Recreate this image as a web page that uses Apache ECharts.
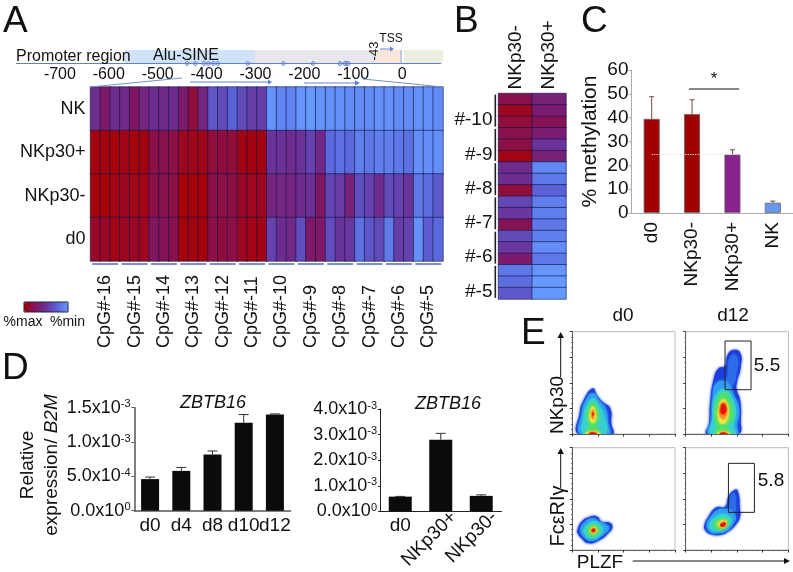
<!DOCTYPE html>
<html><head><meta charset="utf-8">
<style>html,body{margin:0;padding:0;background:#fff}#c{width:793px;height:572px}</style>
<script src="https://cdn.jsdelivr.net/npm/echarts@6/dist/echarts.min.js"></script>
</head><body><div id="c"></div>
<script>
const FF='"Liberation Sans",Arial,sans-serif';
// Panel A heatmap
const rowNamesA=['NK','NKp30+','NKp30-','d0'];
const rowNK=[55,72,55,58,75,62,55,58,55,70,85,62,32,38,25,38,44,44,3,8,10,2,0,2,4,4,6,6,6,4,4,6,6,4,4,6];
const rowPlus=[97,96,97,95,97,96,82,80,82,92,93,94,85,84,85,95,96,96,50,52,55,52,42,58,22,18,22,12,15,12,12,15,18,5,5,5];
const rowMinus=[97,98,95,92,94,95,82,80,82,98,97,98,82,82,83,90,92,92,62,60,62,55,52,75,40,45,65,35,42,55,38,42,50,15,20,30];
const rowD0=[90,90,95,92,90,92,75,78,80,97,96,97,82,84,82,92,95,95,42,55,58,36,72,72,36,50,48,18,32,38,14,45,42,4,28,22];
const cpgLabels=['CpG#-16','CpG#-15','CpG#-14','CpG#-13','CpG#-12','CpG#-11','CpG#-10','CpG#-9','CpG#-8','CpG#-7','CpG#-6','CpG#-5'];
const cpgUnderline=[1,1,1,1,1,1,1,1,1,1,1,1];
// Promoter track
const bandFrom=[-567,-301,-49,3];
const bandTo=[-301,-49,-4,84];
const cpgSites=[-440,-423,-405,-396,-386,-377,-316,-243,-182,-127,-117,-113,-110];
// Panel B
const colsB=['NKp30-','NKp30+'];
const colMinus=[80,92,85,80,82,95,55,55,85,40,48,78,38,48,70,15,20,30];
const colPlus=[65,68,78,68,50,65,8,15,25,12,12,15,12,5,15,2,0,0];
const groupsB=['#-10','#-9','#-8','#-7','#-6','#-5'];
const groupBars=[1,1,1,1,1,1];
// Panel C
const catsC=['d0','NKp30-','NKp30+','NK'];
const meansC=[39.5,41.5,24.5,4.3];
const errTopC=[48.8,47.5,26.5,5];
// Panel D
const catsD1=['d0','d4','d8','d10','d12'];
const meansD1=[0.46e-3,0.58e-3,0.82e-3,1.28e-3,1.40e-3];
const errTopD1=[0.49e-3,0.63e-3,0.87e-3,1.40e-3,1.41e-3];
const ticksD1=['0.0x10|0','5.0x10|-4','1.0x10|-3','1.5x10|-3'];
const catsD2=['d0','NKp30+','NKp30-'];
const meansD2=[0.58e-3,2.8e-3,0.61e-3];
const errTopD2=[0.59e-3,3.05e-3,0.65e-3];
const ticksD2=['0.0x10|0','1.0x10|-3','2.0x10|-3','3.0x10|-3','4.0x10|-3'];
// Panel E contours: [level, outline in axis units]
const levelColors=['#1c3ddc','#2b6ce8','#2f9cf0','#39d0d0','#4de070','#e8e840','#f89020','#e81010'];
const contourTL=[
[0,[[6,0],[7,20],[11,33],[20,44.6],[24,38],[30,31],[37,25],[38,10],[39,0]]],
[2,[[8,0],[9,20],[13,33],[20,40],[27,32],[33,24],[35,10],[36,0]]],
[3,[[11,0],[11,18],[14,28],[20,35],[26,28],[31,18],[32,0]]],
[4,[[14,0],[16,8],[14,20],[20,31],[26,20],[24,8],[27,0]]],
[5,[[17.5,13],[17,21],[20,27],[23,21],[22.5,13],[20,11]]],
[6,[[19,16],[18.8,21],[20,24],[21.2,21],[21,16],[20,14.5]]],
[7,[[19.6,18],[19.6,20.5],[20.3,21.5],[20.8,20],[20.5,18]]],
[5,[[13,0],[16,2.4],[24,2.4],[27,0]]],
[7,[[16,0],[18,1.4],[22,1.4],[24,0]]]];
const contourTR=[
[0,[[20.5,0],[22.7,10.4],[23.7,30],[27,52.8],[31.8,64],[38.3,66.4],[40.6,77],[46.4,82],[53,79.5],[53.6,65.8],[49.7,49.5],[49.7,43],[53,33],[53.6,13.7],[51.3,0]]],
[1,[[41,60],[42,72],[47,78],[51,72],[50,62],[46,48],[40,50]]],
[2,[[22.5,0],[25,15],[26,35],[30,50],[41,50],[47,38],[52,25],[50,8],[50,0]]],
[3,[[25,0],[26,15],[27,30],[31,40],[38,44],[45,36],[49,22],[47,8],[48,0]]],
[4,[[29,0],[30,7],[28,18],[30,32],[35,40],[40,40],[45,28],[46,15],[41,7],[44,0]]],
[5,[[32,13],[32,26],[36,34],[40,31],[42,22],[40,13],[36,10]]],
[6,[[33.5,17],[33.5,27],[36.5,31],[39.5,28],[40,20],[38,15],[36,15]]],
[7,[[34.5,20.5],[34.5,27],[37,29.5],[39,26.5],[39,21.5],[37,19.5]]],
[5,[[31,0],[33,2.4],[40,2.4],[43,0]]],
[7,[[33,0],[35,1.4],[38,1.4],[41,0]]]];
const contourBL=[
[0,[[4.9,19.5],[9,27.7],[17.2,32.6],[24.4,32.6],[28.6,27.7],[36.7,26.7],[39,22],[35,16.3],[27,9.8],[15.6,6.5],[9,11.4],[5.2,16.3]]],
[2,[[8,20],[13,28],[20,31],[26,28],[33,25],[36,21],[29,14],[20,9],[12,12]]],
[3,[[11,20],[16,26],[21,28],[27,25],[30,20],[25,13],[18,11],[13,14]]],
[4,[[14,20],[18,24.5],[22,25],[26,21],[25,15.5],[20,13.5],[15,15.5]]],
[5,[[17,19.5],[20,22.5],[23.5,21.5],[23.5,17.5],[20,16],[17.5,17.5]]],
[7,[[18.5,19],[20.5,21],[22.5,20],[21.5,17.5],[19.5,17.5]]]];
const contourBR=[
[0,[[18.2,24.4],[22,32.6],[30,41.7],[38.3,42.3],[41.6,52],[46.4,58],[50.6,58],[52.9,39],[52.9,32.6],[49.7,26],[41.6,18],[33.4,14.7],[23.7,15.6],[18.8,19.5]]],
[1,[[42,44],[45,55],[48,55],[49,40],[49,36],[42,38]]],
[2,[[20.5,25],[24,32],[31,39],[38,40],[45,38],[49,31],[47,27],[41,19],[32,16.5],[24,17.5]]],
[3,[[23,25],[28,32],[34,35],[41,34],[45,29],[39,21],[31,18.5],[25,19.5]]],
[4,[[27,25],[31,30],[36,31],[41,30],[41,25],[37,20.5],[31,20]]],
[5,[[31,25],[35,29],[40,28],[39,23.5],[35,21.5]]],
[7,[[33.5,24.5],[36.5,27],[39,26.5],[38,23.5],[35.5,22.5]]]];
const gateTR=[38.3,63.6,43.3,90.9];
const gateBR=[41.6,66.9,36.8,84.7];

const heatColors=['#6699ff','#5a62d8','#6a3399','#801560','#aa0000'];
const dataA=[];[rowNK,rowPlus,rowMinus,rowD0].forEach((r,j)=>r.forEach((v,i)=>dataA.push([i,j,v])));
const dataB=[];for(let j=0;j<18;j++){dataB.push([0,j,colMinus[j]]);dataB.push([1,j,colPlus[j]]);}
const rng=n=>Array.from({length:n},(_,i)=>String(i));
const grids=[
 {left:11,top:50,width:440,height:13.5},            //0 track
 {left:90.5,top:87,width:352.5,height:174},         //1 heat A
 {left:90.5,top:263,width:352.5,height:2},          //2 underline
 {left:498.5,top:93.5,width:67.5,height:205.5},     //3 heat B
 {left:494.5,top:93.5,width:1.6,height:205.5},      //4 bracket B
 {left:631.5,top:70,width:162,height:143},          //5 C
 {left:134.5,top:407.7,width:156,height:103},       //6 D1
 {left:380,top:409,width:121.5,height:102.5},       //7 D2
 {left:572.3,top:331.7,width:102.7,height:102.3},   //8
 {left:685.7,top:331.7,width:102.7,height:102.3},   //9
 {left:572.3,top:447.7,width:102.7,height:102.3},   //10
 {left:685.7,top:447.7,width:102.7,height:102.3},   //11
 {left:393,top:409,width:121.5,height:102.5},       //12 D2 slanted labels
];
grids.slice(8,12).forEach(g=>{g.show=true;g.borderColor='#bbb';g.borderWidth=1;g.backgroundColor='#fff';});
const hid={show:false};
const richSup={b:{fontSize:18,fontFamily:FF,color:'#111'},s:{fontSize:11,fontFamily:FF,color:'#111',verticalAlign:'top',padding:[0,0,7,0]}};
const supFmt=list=>(v,i)=>{const p=list[i].split('|');return '{b|'+p[0]+'}{s|'+p[1]+'}';};
const xAxes=[
 {gridIndex:0,type:'value',min:-800,max:100,interval:100,axisLine:hid,axisTick:hid,splitLine:hid,
  axisLabel:{fontSize:16,fontFamily:FF,color:'#111',margin:3,formatter:v=>(v===-800||v===100)?'':String(v)}},
 {gridIndex:1,type:'category',data:rng(36),axisLine:hid,axisTick:hid,axisLabel:hid},
 {gridIndex:2,type:'category',data:cpgLabels,axisLine:hid,axisTick:hid,
  axisLabel:{rotate:90,interval:0,fontSize:18,fontFamily:FF,color:'#111',margin:83,align:'left',verticalAlign:'middle'}},
 {gridIndex:3,type:'category',position:'top',data:colsB,axisLine:hid,axisTick:hid,
  axisLabel:{rotate:-90,interval:0,fontSize:19,fontFamily:FF,color:'#111',margin:4}},
 {gridIndex:4,type:'value',min:0,max:1,show:false},
 {gridIndex:5,type:'category',data:catsC,axisLine:{lineStyle:{color:'#aaa'}},axisTick:{lineStyle:{color:'#aaa'},length:3},
  axisLabel:{rotate:90,interval:0,fontSize:19,fontFamily:FF,color:'#111',margin:9}},
 {gridIndex:6,type:'category',data:catsD1,axisLine:{lineStyle:{color:'#555',width:1.5}},axisTick:hid,
  axisLabel:{interval:0,fontSize:19,fontFamily:FF,color:'#111',margin:6}},
 {gridIndex:7,type:'category',data:['d0','',''],axisLine:{lineStyle:{color:'#222'}},axisTick:{alignWithLabel:true,length:3,lineStyle:{color:'#222'}},
  axisLabel:{interval:0,fontSize:19,fontFamily:FF,color:'#111',margin:5}},
 {gridIndex:12,type:'category',position:'bottom',data:['',catsD2[1],catsD2[2]],axisLine:{show:false,onZero:false},axisTick:hid,
  axisLabel:{rotate:45,interval:0,fontSize:19,fontFamily:FF,color:'#111',margin:7}},
];
const yAxes=[
 {gridIndex:0,type:'value',min:0,max:1,show:false},
 {gridIndex:1,type:'category',inverse:true,data:rowNamesA,axisLine:hid,axisTick:hid,
  axisLabel:{fontSize:18,fontFamily:FF,color:'#111',margin:5,padding:[8,0,0,0]}},
 {gridIndex:2,type:'value',min:0,max:1,show:false},
 {gridIndex:3,type:'category',inverse:true,data:rng(18),show:false},
 {gridIndex:4,type:'category',inverse:true,data:groupsB,axisLine:hid,axisTick:hid,
  axisLabel:{interval:0,fontSize:19,fontFamily:FF,color:'#111',margin:2,verticalAlign:'top'}},
 {gridIndex:5,type:'value',min:0,max:60,interval:10,splitLine:hid,axisLine:{show:true,lineStyle:{color:'#aaa'}},axisTick:{show:true,length:3,lineStyle:{color:'#aaa'}},
  name:'% methylation',nameLocation:'middle',nameGap:31,nameTextStyle:{fontSize:21,fontFamily:FF,color:'#111'},
  axisLabel:{fontSize:19,fontFamily:FF,color:'#111',margin:3}},
 {gridIndex:6,type:'value',min:0,max:1.5e-3,interval:0.5e-3,splitLine:hid,axisLine:{show:true,lineStyle:{color:'#555',width:1.5}},axisTick:{show:true,length:3,lineStyle:{color:'#555'}},
  axisLabel:{margin:4,formatter:supFmt(ticksD1),rich:richSup}},
 {gridIndex:7,type:'value',min:0,max:4e-3,interval:1e-3,splitLine:hid,axisLine:{show:true,lineStyle:{color:'#222'}},axisTick:{show:true,length:2,lineStyle:{color:'#222'}},
  axisLabel:{margin:3,formatter:supFmt(ticksD2),rich:richSup}},
];
for(let k=8;k<12;k++){
 const ax={gridIndex:k,type:'value',min:0,max:100,interval:25,splitLine:hid,axisLabel:hid,
  axisLine:{show:true,lineStyle:{color:'#444',width:0.8}},axisTick:{show:true,length:2.5,lineStyle:{color:'#333'}},
  minorTick:{show:true,splitNumber:5,length:1.2,lineStyle:{color:'#666'}}};
 xAxes.push(Object.assign({},ax));yAxes.push(Object.assign({},ax));
}
yAxes.push({gridIndex:12,type:'value',min:0,max:1,show:false});
const xi=k=>k<=7?k:k+1; // grid 12 owns x axis 8, grids 8-11 own 9-12
const yi=k=>k;
function errSeries(k,cats,tops,means,col,cap){
 return {type:'custom',xAxisIndex:xi(k),yAxisIndex:yi(k),z:3,silent:true,
  data:cats.map((c,i)=>[i,means[i],tops[i]]),encode:{x:0,y:[1,2]},
  renderItem:(p,api)=>{const a=api.coord([api.value(0),api.value(1)]),b=api.coord([api.value(0),api.value(2)]);
   const st={stroke:col,lineWidth:1,fill:'none'};
   return {type:'group',children:[
    {type:'line',shape:{x1:a[0],y1:a[1],x2:b[0],y2:b[1]},style:st},
    {type:'line',shape:{x1:b[0]-cap,y1:b[1],x2:b[0]+cap,y2:b[1]},style:st}]};}};
}
function contourSeries(k,list){
 return {type:'custom',xAxisIndex:xi(k),yAxisIndex:yi(k),z:2,silent:true,clip:true,
  data:list.map((c,i)=>[i,0]),encode:{x:0,y:1},
  renderItem:(p,api)=>{const c=list[p.dataIndex];const col=levelColors[c[0]];
   return {type:'polygon',shape:{points:c[1].map(q=>api.coord(q)),smooth:0.5},
    style:{fill:col,shadowBlur:3,shadowColor:col}};}};
}
function gateSeries(k,g){
 return {type:'custom',xAxisIndex:xi(k),yAxisIndex:yi(k),z:4,silent:true,
  data:[[g[0],g[2],g[1],g[3]]],encode:{x:[0,2],y:[1,3]},
  renderItem:(p,api)=>{const a=api.coord([api.value(0),api.value(1)]),b=api.coord([api.value(2),api.value(3)]);
   return {type:'rect',shape:{x:a[0],y:b[1],width:b[0]-a[0],height:a[1]-b[1]},style:{fill:'none',stroke:'#222',lineWidth:1}};}};
}
const bandColors=['#cfe2f7','#e8e8ec','#fbe5d8','#eeeee0'];
const series=[
 {type:'custom',xAxisIndex:0,yAxisIndex:0,silent:true,clip:false,
  data:bandFrom.map((f,i)=>[f,bandTo[i]]),encode:{x:[0,1]},
  renderItem:(p,api)=>{const a=api.coord([api.value(0),1]),b=api.coord([api.value(1),0]);
   return {type:'rect',shape:{x:a[0],y:a[1],width:b[0]-a[0],height:b[1]-a[1]},style:{fill:bandColors[p.dataIndex]}};}},
 {type:'scatter',xAxisIndex:0,yAxisIndex:0,data:cpgSites.map(v=>[v,0]),symbol:'diamond',symbolSize:5,silent:true,clip:false,z:5,
  itemStyle:{color:'#b9c8f2',borderColor:'#3f5fd0',borderWidth:0.8}},
 {type:'heatmap',xAxisIndex:1,yAxisIndex:1,data:dataA,silent:true,itemStyle:{borderColor:'rgba(15,20,70,0.75)',borderWidth:0.8}},
 {type:'bar',xAxisIndex:2,yAxisIndex:2,data:cpgUnderline,barWidth:26,silent:true,itemStyle:{color:'#7a8fd8'}},
 {type:'heatmap',xAxisIndex:3,yAxisIndex:3,data:dataB,silent:true,itemStyle:{borderColor:'rgba(15,20,70,0.75)',borderWidth:0.8}},
 {type:'bar',xAxisIndex:4,yAxisIndex:4,data:groupBars,barWidth:32,silent:true,itemStyle:{color:'#222'}},
 {type:'bar',xAxisIndex:5,yAxisIndex:5,barWidth:16,silent:true,
  data:meansC.map((v,i)=>({value:v,itemStyle:{color:['#a00000','#a00000','#8a2290','#6699ee'][i],borderColor:'#666',borderWidth:0.8}})),
  markLine:{silent:true,symbol:'none',label:hid,z:6,lineStyle:{color:'#e4e4e4',type:'dotted',width:1.2},
   data:[[{coord:['d0',meansC[2]]},{coord:['NKp30+',meansC[2]]}]]}},
 errSeries(5,catsC,errTopC,meansC,'#774444',2.5),
 {type:'bar',xAxisIndex:6,yAxisIndex:6,barWidth:18,silent:true,data:meansD1,itemStyle:{color:'#0b0b0b'}},
 errSeries(6,catsD1,errTopD1,meansD1,'#333',5),
 {type:'bar',xAxisIndex:7,yAxisIndex:7,barWidth:23,silent:true,data:meansD2,itemStyle:{color:'#0b0b0b'}},
 errSeries(7,catsD2,errTopD2,meansD2,'#333',5),
 {type:'bar',xAxisIndex:8,yAxisIndex:12,data:[],silent:true},
 contourSeries(8,contourTL),contourSeries(9,contourTR),contourSeries(10,contourBL),contourSeries(11,contourBR),gateSeries(9,gateTR),gateSeries(11,gateBR)
];

const T=(text,x,y,fs,o)=>Object.assign({type:'text',x,y,silent:true,z:20,rotation:(o&&o.rot)||0,
 style:Object.assign({text,fontSize:fs,fontFamily:FF,fill:'#111',align:(o&&o.align)||'center',verticalAlign:'middle',fontStyle:(o&&o.it)?'italic':'normal'},(o&&o.rich)?{rich:o.rich}:{})});
const L=(x1,y1,x2,y2,c,w)=>({type:'line',silent:true,z:19,shape:{x1,y1,x2,y2},style:{stroke:c,lineWidth:w||1}});
const H=(pts,c)=>({type:'polygon',silent:true,z:19,shape:{points:pts},style:{fill:c}});
const blue='#5a80dc';
const R=Math.PI/2;
const graphic=[
 T('A',3,22,37,{align:'left'}),T('B',454,22,37,{align:'left'}),T('C',581,22,37,{align:'left'}),
 T('D',2,369,37,{align:'left'}),T('E',521,334,37,{align:'left'}),
 // promoter annotations
 L(16,63.5,441,63.5,blue,1),L(401,50,401,63.5,'#8fa6e0',1.2),
 T('Promoter region',16,57,16,{align:'left'}),T('Alu-SINE',153,56,16,{align:'left'}),
 T('TSS',391,39,12),T('-43',374,51,13,{rot:R}),
 L(380,49,390,49,blue,1),H([[390,46.5],[394,49],[390,51.5]],blue),
 L(190,82,268,82,blue,1),H([[268,79.5],[272,82],[268,84.5]],blue),
 L(304,83,355,83,blue,1),H([[355,80.5],[360,83],[355,85.5]],blue),
 L(90,87,182,78,'#7a90c8',1),L(363,79,443,87,'#7a90c8',1),
 T('%max',23,322,14),T('%min',67.5,322,14),
 {type:'rect',silent:true,z:19,shape:{x:24,y:302,width:44,height:10},style:{fill:'none',stroke:'#223',lineWidth:1}},
 // panel C annotation
 L(689,89,739,89,'#111',1),T('*',714,79,17),
 // panel D
 T('Relative',28,465,19,{rot:R}),
 T('expression/ {i|B2M}',52,465,19,{rot:R,rich:{i:{fontStyle:'italic',fontSize:19,fontFamily:FF,fill:'#111'}}}),
 T('ZBTB16',213,403,18,{it:1}),T('ZBTB16',448,404,18,{it:1}),
 // panel E
 T('d0',623,316,19),T('d12',733,316,19),T('5.5',767,366,19),T('5.8',771,481,19),
 T('NKp30',558,405,19,{rot:R}),T('FcεRIγ',558,516,20,{rot:R}),T('PLZF',600,563,19),
 L(560.7,377,560.7,337,'#111',1),H([[557.5,338],[560.7,332],[563.9,338]],'#111'),
 L(560.7,488,560.7,453,'#111',1),H([[557.5,454],[560.7,448],[563.9,454]],'#111'),
 L(632.7,561,785,561,'#111',1),H([[784,558],[790,561],[784,564]],'#111'),
];
const chart=echarts.init(document.getElementById('c'),null,{renderer:'canvas'});
chart.setOption({animation:false,backgroundColor:'#fff',grid:grids,xAxis:xAxes,yAxis:yAxes,series,graphic:{elements:graphic},
 visualMap:{type:'continuous',min:0,max:100,seriesIndex:[2,4],inverse:true,orient:'horizontal',left:24,top:302,itemWidth:10,itemHeight:44,
  calculable:false,realtime:false,text:null,padding:0,showLabel:false,borderWidth:0,inRange:{color:heatColors},textStyle:{fontSize:0}}
});
</script></body></html>
